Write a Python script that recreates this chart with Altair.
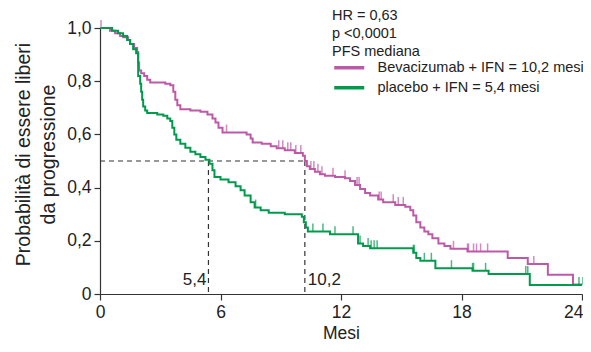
import altair as alt
import numpy as np
import pandas as pd

BEVA = "Bevacizumab + IFN = 10,2 mesi"
PLAC = "placebo + IFN = 5,4 mesi"
PURPLE = "#bd5aa7"
GREEN = "#009a4c"
FONT = "Liberation Sans"

# Kaplan-Meier steps (months, survival)
beva_t = [0, 0.5, 0.75, 1.0, 1.15, 1.4, 1.5, 1.7, 1.85, 1.9, 1.95, 2.05, 2.2, 2.35, 2.5,
          3.25, 3.5, 3.65, 3.75, 3.85, 4.0, 4.5, 5.0, 5.35, 5.6, 5.75, 5.9, 6.1, 7.3, 7.5,
          7.6, 8.05, 8.5, 8.8, 9.2, 9.7, 10.1, 10.2, 10.3, 10.45, 10.7, 10.95, 11.2, 11.7,
          12.2, 12.45, 12.7, 12.95, 13.2, 13.45, 13.85, 14.1, 14.7, 15.2, 15.45, 15.6, 15.75,
          15.95, 16.15, 16.35, 16.55, 16.85, 17.15, 17.45, 18.3, 20.3, 21.3, 22.3, 23.55, 24.0]
beva_s = [1.0, 0.99, 0.98, 0.97, 0.965, 0.955, 0.94, 0.925, 0.91, 0.87, 0.84, 0.83, 0.82, 0.805, 0.795,
          0.79, 0.785, 0.76, 0.73, 0.71, 0.695, 0.69, 0.685, 0.675, 0.66, 0.645, 0.625, 0.607, 0.60, 0.585,
          0.57, 0.565, 0.555, 0.548, 0.54, 0.53, 0.52, 0.50, 0.48, 0.47, 0.46, 0.45, 0.445, 0.44,
          0.435, 0.425, 0.41, 0.395, 0.38, 0.37, 0.355, 0.345, 0.335, 0.328, 0.315, 0.295, 0.27,
          0.25, 0.235, 0.225, 0.21, 0.19, 0.18, 0.17, 0.16, 0.135, 0.113, 0.072, 0.036, 0.036]

plac_t = [0, 0.6, 0.9, 1.15, 1.35, 1.5, 1.65, 1.8, 1.9, 2.0, 2.05, 2.1, 2.15, 2.25, 2.35,
          2.85, 3.15, 3.35, 3.5, 3.6, 3.7, 3.8, 4.0, 4.25, 4.5, 4.75, 5.0, 5.25, 5.45, 5.6,
          5.7, 6.0, 6.4, 6.75, 7.0, 7.2, 7.5, 7.7, 8.0, 8.4, 9.2, 10.05, 10.15, 10.25, 10.35,
          11.45, 12.85, 13.1, 13.45, 15.6, 15.75, 15.95, 16.7, 18.55, 19.35, 21.4, 24.0]
plac_s = [1.0, 0.99, 0.98, 0.97, 0.955, 0.94, 0.92, 0.905, 0.82, 0.79, 0.76, 0.73, 0.705, 0.69, 0.68,
          0.675, 0.67, 0.66, 0.65, 0.625, 0.60, 0.58, 0.565, 0.55, 0.535, 0.525, 0.515, 0.505, 0.49, 0.465,
          0.44, 0.43, 0.42, 0.405, 0.39, 0.37, 0.345, 0.325, 0.315, 0.305, 0.30, 0.29, 0.27, 0.25, 0.235,
          0.225, 0.19, 0.18, 0.172, 0.155, 0.135, 0.125, 0.097, 0.087, 0.075, 0.034, 0.034]

# censoring times (months)
beva_cens = [0.05, 6.3, 8.9, 9.1, 9.35, 9.5, 9.75, 10.0, 10.5, 10.65, 10.85, 11.05, 11.6, 12.2,
             12.8, 12.9, 13.9, 14.0, 14.6, 14.85, 15.1, 17.6, 18.3, 18.35, 18.6, 18.75, 18.95,
             19.3, 21.6]
plac_cens = [7.75, 10.6, 11.1, 11.7, 12.6, 12.95, 13.35, 13.5, 13.65, 13.8, 15.6, 15.65, 16.15,
             16.5, 17.5, 18.55, 18.6, 19.2, 21.2, 21.3, 23.85, 24.05]

# median annotation
med_x = [5.4, 10.2]
med_label = ["5,4", "10,2"]

curves = pd.concat([
    pd.DataFrame({"t": beva_t, "s": beva_s, "arm": BEVA, "ord": 0}),
    pd.DataFrame({"t": plac_t, "s": plac_s, "arm": PLAC, "ord": 1}),
])


def cens_frame(times, ct, cs, arm):
    idx = np.searchsorted(np.array(ct), np.array(times), side="right") - 1
    return pd.DataFrame({"t": times, "s": np.array(cs)[idx], "arm": arm})


cens = pd.concat([
    cens_frame(beva_cens, beva_t, beva_s, BEVA),
    cens_frame(plac_cens, plac_t, plac_s, PLAC),
])

rules = pd.DataFrame({
    "x": [0, med_x[0], med_x[1]],
    "x2": [med_x[1], med_x[0], med_x[1]],
    "y": [0.5, 0.5, 0.5],
    "y2": [0.5, 0.0, 0.0],
})
labels = pd.DataFrame({"x": med_x, "label": med_label, "y": [0, 0]})

xscale = alt.Scale(domain=[0, 24], nice=False, padding=0, zero=False)
yscale = alt.Scale(domain=[0, 1], nice=False, padding=0)
color_scale = alt.Scale(domain=[BEVA, PLAC], range=[PURPLE, GREEN])
color = alt.Color(
    "arm:N",
    scale=color_scale,
    legend=alt.Legend(
        title=["HR = 0,63", "p <0,0001", "PFS mediana"],
        orient="none", legendX=232, legendY=-19,
        symbolType="M-1,0H5", symbolSize=100, symbolStrokeWidth=3.5,
        labelFontSize=14.5, titleFontSize=14.5, titleFontWeight="normal",
        titleLineHeight=18, titlePadding=1, labelOffset=31, labelLimit=0, rowPadding=4,
        labelFont=FONT, titleFont=FONT, labelColor="#222", titleColor="#222",
    ),
)

x_axis = alt.Axis(values=[0, 6, 12, 18, 24], title="Mesi", tickSize=6, labelPadding=3,
                  titlePadding=4, titleFontSize=17.5, grid=False, labelFlush=False,
                  labelAlign={"condition": {"test": "datum.value == 24", "value": "right"},
                              "value": "center"},
                  labelOffset={"condition": {"test": "datum.value == 24", "value": 1},
                               "value": 0})
y_axis = alt.Axis(values=[0, 0.2, 0.4, 0.6, 0.8, 1.0],
                  labelExpr="datum.value == 0 ? '0' : replace(format(datum.value, '.1f'), '.', ',')",
                  title=["Probabilità di essere liberi", "da progressione"], tickSize=6,
                  titleFontSize=19.5, titleY=126,
                  labelPadding=3, titlePadding=8, titleLineHeight=25, grid=False, labelFlush=False)

base = alt.Chart(curves)

med_rules = alt.Chart(rules).mark_rule(strokeDash=[5, 4], color="#333", strokeWidth=1.2).encode(
    x=alt.X("x:Q", scale=xscale, axis=x_axis), x2="x2:Q",
    y=alt.Y("y:Q", scale=yscale, axis=y_axis), y2="y2:Q",
)

lines = base.mark_line(interpolate="step-after", strokeWidth=2).encode(
    x=alt.X("t:Q", scale=xscale), y=alt.Y("s:Q", scale=yscale), color=color,
    order="ord:Q",
)

ticks = alt.Chart(cens).mark_tick(orient="vertical", size=8, thickness=1.5, yOffset=-4).encode(
    x=alt.X("t:Q", scale=xscale), y=alt.Y("s:Q", scale=yscale),
    color=alt.Color("arm:N", scale=color_scale, legend=None),
)

lab_left = alt.Chart(labels.iloc[[0]]).mark_text(
    align="right", baseline="alphabetic", dx=-2, dy=-9, fontSize=17, font=FONT, color="#222"
).encode(x=alt.X("x:Q", scale=xscale), y=alt.Y("y:Q", scale=yscale), text="label:N")
lab_right = alt.Chart(labels.iloc[[1]]).mark_text(
    align="left", baseline="alphabetic", dx=3, dy=-9, fontSize=17, font=FONT, color="#222"
).encode(x=alt.X("x:Q", scale=xscale), y=alt.Y("y:Q", scale=yscale), text="label:N")

chart = alt.layer(med_rules, lines, ticks, lab_left, lab_right).properties(
    width=482, height=266,
    autosize=alt.AutoSizeParams(type="none"),
    padding={"left": 92, "top": 20, "right": 1, "bottom": 50},
).configure_view(stroke=None).configure_axis(
    labelFont=FONT, titleFont=FONT, labelFontSize=17.5, titleFontSize=18,
    titleFontWeight="normal", labelColor="#222", titleColor="#222",
    domainColor="#333", tickColor="#333", domainWidth=1.2, tickWidth=1.2,
)

chart.save("out.html", embed_options={"renderer": "svg", "actions": False})
